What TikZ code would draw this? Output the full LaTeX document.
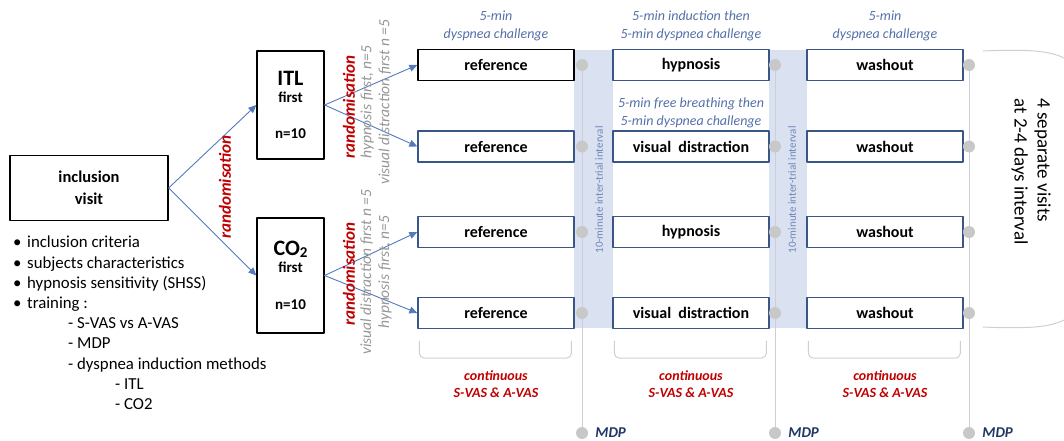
\documentclass[tikz,border=0pt]{standalone}
\usepackage{fontspec}
\setmainfont{Carlito}
\usetikzlibrary{arrows.meta,positioning}

\definecolor{boxblue}{RGB}{58,86,134}
\definecolor{arrowblue}{RGB}{84,122,190}
\definecolor{bandblue}{RGB}{218,226,242}
\definecolor{noteblue}{RGB}{84,112,168}
\definecolor{randred}{RGB}{192,0,0}
\definecolor{notegray}{RGB}{150,150,150}
\definecolor{dotgray}{RGB}{200,200,200}
\definecolor{linegray}{RGB}{204,208,214}
\definecolor{mdpblue}{RGB}{31,56,100}

\tikzstyle{every path}=[line cap=round,line join=round]
\tikzstyle{visit}=[draw=black,line width=1.3pt,minimum width=158pt,minimum height=65pt,align=center,font=\fontsize{16.5}{21.5}\selectfont\bfseries]
\tikzstyle{group}=[draw=black,line width=1.3pt,minimum width=67pt,align=center,font=\fontsize{15}{18}\selectfont\bfseries]
\tikzstyle{trial}=[draw=boxblue,fill=white,line width=1.3pt,minimum width=156pt,minimum height=31pt,inner sep=0pt,font=\fontsize{16}{19}\selectfont\bfseries]
\tikzstyle{bullets}=[anchor=north west,inner sep=0pt,align=left,font=\fontsize{16.8}{20.2}\selectfont]
\tikzstyle{randarrow}=[arrowblue,line width=0.9pt,-{Triangle[length=8pt,width=7pt]}]
\tikzstyle{randlabel}=[rotate=90,text=randred,font=\fontsize{17}{20}\selectfont\bfseries\itshape]
\tikzstyle{orderlabel}=[rotate=90,align=center,text=notegray,font=\fontsize{15.5}{18}\selectfont\itshape]
\tikzstyle{note}=[align=center,text=noteblue,font=\fontsize{14}{18}\selectfont\itshape]
\tikzstyle{itilabel}=[rotate=90,text=noteblue!85,font=\fontsize{11}{12}\selectfont]
\tikzstyle{timeline}=[linegray,line width=1pt]
\tikzstyle{dot}=[circle,fill=dotgray,minimum size=12pt,inner sep=0pt]
\tikzstyle{mdp}=[text=mdpblue,inner sep=0pt,font=\fontsize{15}{18}\selectfont\bfseries\itshape]
\tikzstyle{vas}=[align=center,text=randred,font=\fontsize{14}{17.5}\selectfont\bfseries\itshape]
\tikzstyle{bracket}=[linegray,line width=1pt,rounded corners=5pt]

\begin{document}
\begin{tikzpicture}[x=1pt,y=-1pt]
    % Frame of the picture
    \useasboundingbox (0,0) rectangle (1064,441);

    % Inter-trial bands
    \fill[bandblue] (574,50) rectangle (613,328);
    \fill[bandblue] (769,50) rectangle (807,328);
    \node[itilabel] (iti1) at (599,190) {10-minute inter-trial interval};
    \node[itilabel] (iti2) at (792,190) {10-minute inter-trial interval};

    % Inclusion visit
    \node[visit] (incl) at (89,188) {inclusion\\visit};
    \node[bullets] (list) at (13,236) {%
        \makebox[14pt][l]{•}inclusion criteria\\
        \makebox[14pt][l]{•}subjects characteristics\\
        \makebox[14pt][l]{•}hypnosis sensitivity (SHSS)\\
        \makebox[14pt][l]{•}training :\\
        \hspace*{55pt}- S-VAS vs A-VAS\\
        \hspace*{55pt}- MDP\\
        \hspace*{55pt}- dyspnea induction methods\\
        \hspace*{102pt}- ITL\\
        \hspace*{102pt}- CO2};

    % Groups
    \node[group,minimum height=108pt] (itl) at (290.5,105)
        {{\fontsize{22}{24}\selectfont ITL}\\[-1pt]first\\[18pt]n=10};
    \node[group,minimum height=115pt] (co2) at (290.5,275.5)
        {{\fontsize{22}{24}\selectfont CO\raisebox{-1.5pt}{\fontsize{15}{15}\selectfont 2}}\\[-1pt]first\\[19pt]n=10};

    % First randomisation
    \draw[randarrow] (incl.east) -- (itl.west);
    \draw[randarrow] (incl.east) -- (co2.west);
    \node[randlabel] (rand0) at (225,187) {randomisation};

    % Trials, one row per visit
    \foreach \row/\yy/\bordercol in {1/65/black,2/146.5/boxblue,3/232/boxblue,4/313/boxblue}
        \node[trial,draw=\bordercol] (ref\row) at (496,\yy) {reference};
    \foreach \row/\yy/\txt in {1/65/hypnosis,2/146.5/visual\ \ distraction,3/232/hypnosis,4/313/visual\ \ distraction}
        \node[trial] (int\row) at (691,\yy) {\txt};
    \foreach \row/\yy in {1/65,2/146.5,3/232,4/313}
        \node[trial] (wash\row) at (885,\yy) {washout};

    % Second randomisation
    \draw[randarrow] (itl.east) -- (ref1.west);
    \draw[randarrow] (itl.east) -- (ref2.west);
    \draw[randarrow] (co2.east) -- (ref3.west);
    \draw[randarrow] (co2.east) -- (ref4.west);
    \node[randlabel] (rand1) at (349,107) {randomisation};
    \node[randlabel] (rand2) at (349,274) {randomisation};
    \node[orderlabel] (order1) at (376,102) {hypnosis first, n=5\\visual distraction first n =5};
    \node[orderlabel] (order2) at (376,272) {visual distraction first n =5\\hypnosis first, n=5};

    % Task descriptions
    \node[note] (note1) at (496,26) {5-min\\dyspnea challenge};
    \node[note] (note2) at (691,26) {5-min induction then\\5-min dyspnea challenge};
    \node[note] (note3) at (885,26) {5-min\\dyspnea challenge};
    \node[note] (note4) at (691,113) {5-min free breathing then\\5-min dyspnea challenge};

    % Time lines with MDP ratings
    \foreach \col/\xx in {1/582,2/775,3/969} {
        \coordinate (top\col) at (\xx,65);
        \coordinate (bot\col) at (\xx,433);
        \draw[timeline] (top\col) -- (bot\col);
        \foreach \row/\yy in {1/65,2/146.5,3/232,4/313}
            \node[dot] (dot\col\row) at (\xx,\yy) {};
        \node[dot] (mdpdot\col) at (bot\col) {};
        \node[mdp,right=7pt of mdpdot\col] (mdp\col) {MDP};
    }

    % Continuous ratings below each column
    \draw[bracket] (ref4.south west) ++(2,12) |- ++(152,17) -- ++(0,-17);
    \draw[bracket] (int4.south west) ++(2,12) |- ++(152,17) -- ++(0,-17);
    \draw[bracket] (wash4.south west) ++(2,12) |- ++(152,17) -- ++(0,-17);
    \node[vas] (vas1) at (496,384) {continuous\\S-VAS \& A-VAS};
    \node[vas] (vas2) at (691,384) {continuous\\S-VAS \& A-VAS};
    \node[vas] (vas3) at (885,384) {continuous\\S-VAS \& A-VAS};

    % Separate visits
    \draw[linegray,line width=1pt] (983,51) .. controls (1030,49) and (1050,51) .. (1064,58);
    \draw[linegray,line width=1pt] (983,327) .. controls (1030,329) and (1050,327) .. (1064,320);
    \node[rotate=-90,anchor=west,align=left,font=\fontsize{19}{23}\selectfont] (visits) at (1031,95)
        {4 separate visits\\at 2-4 days interval};
\end{tikzpicture}
\end{document}
